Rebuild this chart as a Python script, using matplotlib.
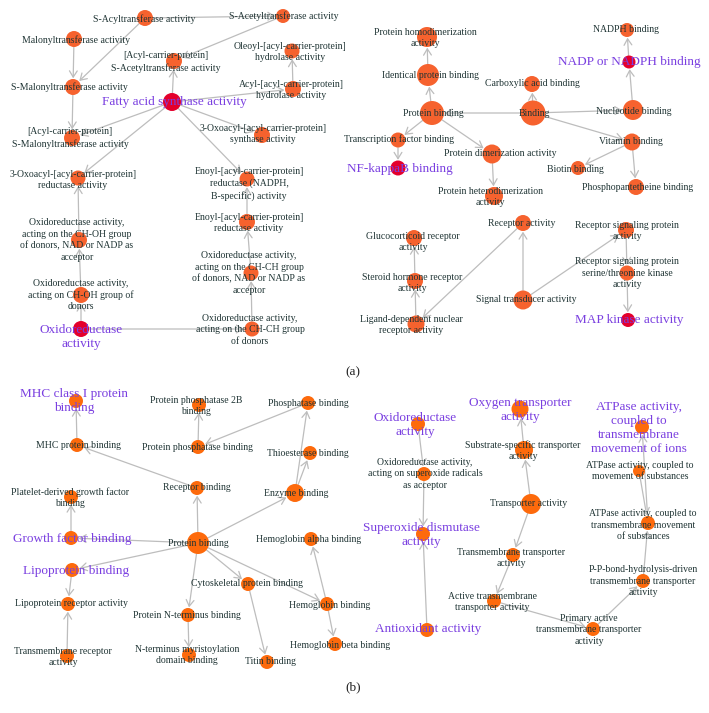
import matplotlib
matplotlib.use('Agg')
import matplotlib.pyplot as plt
from matplotlib.patches import FancyArrowPatch, ArrowStyle

plt.rcParams['font.family'] = ['Liberation Serif', 'DejaVu Serif']

# ---------------- data: GO terms (nodes) ----------------
panel_tags = ['(a)', '(b)']

node_labels = {
    # panel (a) - left network
    'sacyl': 'S-Acyltransferase activity',
    'sacet': 'S-Acetyltransferase activity',
    'malonyl': 'Malonyltransferase activity',
    'acpacet': '[Acyl-carrier-protein]\nS-Acetyltransferase activity',
    'oleoyl': 'Oleoyl-[acyl-carrier-protein]\nhydrolase activity',
    'smalonyl': 'S-Malonyltransferase activity',
    'fas': 'Fatty acid synthase activity',
    'acylhyd': 'Acyl-[acyl-carrier-protein]\nhydrolase activity',
    'acpmal': '[Acyl-carrier-protein]\nS-Malonyltransferase activity',
    'oxsyn': '3-Oxoacyl-[acyl-carrier-protein]\nsynthase activity',
    'oxred': '3-Oxoacyl-[acyl-carrier-protein]\nreductase activity',
    'enoylb': 'Enoyl-[acyl-carrier-protein]\nreductase (NADPH,\nB-specific) activity',
    'enoyl': 'Enoyl-[acyl-carrier-protein]\nreductase activity',
    'chohnad': 'Oxidoreductase activity,\nacting on the CH-OH group\nof donors, NAD or NADP as\nacceptor',
    'chchnad': 'Oxidoreductase activity,\nacting on the CH-CH group\nof donors, NAD or NADP as\nacceptor',
    'choh': 'Oxidoreductase activity,\nacting on CH-OH group of\ndonors',
    'oxa': 'Oxidoreductase\nactivity',
    'chch': 'Oxidoreductase activity,\nacting on the CH-CH group\nof donors',
    # panel (a) - right network
    'phomo': 'Protein homodimerization\nactivity',
    'ident': 'Identical protein binding',
    'pba': 'Protein binding',
    'tf': 'Transcription factor binding',
    'nfkb': 'NF-kappaB binding',
    'pdimer': 'Protein dimerization activity',
    'phet': 'Protein heterodimerization\nactivity',
    'binding': 'Binding',
    'carbox': 'Carboxylic acid binding',
    'nadph': 'NADPH binding',
    'nadp': 'NADP or NADPH binding',
    'nucl': 'Nucleotide binding',
    'vit': 'Vitamin binding',
    'biotin': 'Biotin binding',
    'ppant': 'Phosphopantetheine binding',
    'recact': 'Receptor activity',
    'gluco': 'Glucocorticoid receptor\nactivity',
    'steroid': 'Steroid hormone receptor\nactivity',
    'ligand': 'Ligand-dependent nuclear\nreceptor activity',
    'sigtr': 'Signal transducer activity',
    'rsp': 'Receptor signaling protein\nactivity',
    'rspstk': 'Receptor signaling protein\nserine/threonine kinase\nactivity',
    'mapk': 'MAP kinase activity',
    # panel (b)
    'mhc1': 'MHC class I protein\nbinding',
    'mhc': 'MHC protein binding',
    'pp2b': 'Protein phosphatase 2B\nbinding',
    'ppb': 'Protein phosphatase binding',
    'phosb': 'Phosphatase binding',
    'thio': 'Thioesterase binding',
    'enz': 'Enzyme binding',
    'recb': 'Receptor binding',
    'pdgf': 'Platelet-derived growth factor\nbinding',
    'gfb': 'Growth factor binding',
    'pbb': 'Protein binding',
    'lipo': 'Lipoprotein binding',
    'lipor': 'Lipoprotein receptor activity',
    'tmr': 'Transmembrane receptor\nactivity',
    'pnt': 'Protein N-terminus binding',
    'myr': 'N-terminus myristoylation\ndomain binding',
    'cyto': 'Cytoskeletal protein binding',
    'titin': 'Titin binding',
    'hb': 'Hemoglobin binding',
    'hba': 'Hemoglobin alpha binding',
    'hbb': 'Hemoglobin beta binding',
    'oxb': 'Oxidoreductase\nactivity',
    'superox': 'Oxidoreductase activity,\nacting on superoxide radicals\nas acceptor',
    'sod': 'Superoxide dismutase\nactivity',
    'antiox': 'Antioxidant activity',
    'oxyt': 'Oxygen transporter\nactivity',
    'subst': 'Substrate-specific transporter\nactivity',
    'transp': 'Transporter activity',
    'tmt': 'Transmembrane transporter\nactivity',
    'active': 'Active transmembrane\ntransporter activity',
    'primary': 'Primary active\ntransmembrane transporter\nactivity',
    'ppbond': 'P-P-bond-hydrolysis-driven\ntransmembrane transporter\nactivity',
    'atptm': 'ATPase activity, coupled to\ntransmembrane movement\nof substances',
    'atpmov': 'ATPase activity, coupled to\nmovement of substances',
    'atpion': 'ATPase activity,\ncoupled to\ntransmembrane\nmovement of ions',
}

# directed edges (parent term -> child term)
edge_src = ['sacyl', 'sacyl', 'sacet', 'malonyl', 'smalonyl', 'fas', 'fas', 'fas', 'fas',
            'acylhyd', 'fas', 'fas', 'enoyl', 'chchnad', 'chch', 'oxa', 'oxa', 'choh', 'chohnad',
            'pba', 'ident', 'pba', 'tf', 'pba', 'pdimer', 'binding', 'binding', 'binding',
            'binding', 'nucl', 'nadp', 'vit', 'vit',
            'sigtr', 'recact', 'ligand', 'steroid', 'sigtr', 'rsp', 'rspstk',
            'mhc', 'recb', 'pbb', 'ppb', 'phosb', 'enz', 'enz', 'pbb', 'gfb', 'pbb', 'pbb',
            'lipo', 'tmr', 'pbb', 'pnt', 'pbb', 'pbb', 'cyto', 'hb', 'hb',
            'oxb', 'superox', 'antiox', 'subst', 'transp', 'transp', 'tmt', 'active', 'primary',
            'ppbond', 'atpmov', 'atptm']
edge_dst = ['smalonyl', 'sacet', 'acpacet', 'smalonyl', 'acpmal', 'acpacet', 'acpmal', 'oxred', 'acylhyd',
            'oleoyl', 'oxsyn', 'enoylb', 'enoylb', 'enoyl', 'chchnad', 'chch', 'choh', 'chohnad', 'oxred',
            'ident', 'phomo', 'tf', 'nfkb', 'pdimer', 'phet', 'pba', 'carbox', 'nucl',
            'vit', 'nadp', 'nadph', 'biotin', 'ppant',
            'recact', 'ligand', 'steroid', 'gluco', 'rsp', 'rspstk', 'mapk',
            'mhc1', 'mhc', 'recb', 'pp2b', 'ppb', 'phosb', 'thio', 'enz', 'pdgf', 'gfb', 'lipo',
            'lipor', 'lipor', 'pnt', 'myr', 'cyto', 'hb', 'titin', 'hba', 'hbb',
            'superox', 'sod', 'sod', 'oxyt', 'subst', 'tmt', 'active', 'primary', 'ppbond',
            'atptm', 'atptm', 'atpion']

red_nodes = ['fas', 'oxa', 'nfkb', 'nadp', 'mapk']
highlight_labels = ['fas', 'oxa', 'nfkb', 'nadp', 'mapk', 'mhc1', 'gfb', 'lipo',
                    'oxb', 'sod', 'antiox', 'oxyt', 'atpion']
panel_b_nodes = ['mhc1', 'mhc', 'pp2b', 'ppb', 'phosb', 'thio', 'enz', 'recb', 'pdgf', 'gfb',
                 'pbb', 'lipo', 'lipor', 'tmr', 'pnt', 'myr', 'cyto', 'titin', 'hb', 'hba',
                 'hbb', 'oxb', 'superox', 'sod', 'antiox', 'oxyt', 'subst', 'transp', 'tmt',
                 'active', 'primary', 'ppbond', 'atptm', 'atpmov', 'atpion']

# ---------------- layout (pixel canvas coordinates) ----------------
# id: (node x, node y, node radius, label x, label y)
layout = {
    'sacyl': (145, 18, 8, 144, 19), 'sacet': (283, 16, 7, 284, 16),
    'malonyl': (74, 39, 8, 76, 40), 'acpacet': (174, 61, 8, 166, 62),
    'oleoyl': (292, 51, 7.5, 290, 52), 'smalonyl': (73, 87, 8, 69, 87),
    'fas': (172, 102, 9, 174, 102), 'acylhyd': (293, 89, 8, 291, 90),
    'acpmal': (72, 138, 8, 70, 138), 'oxsyn': (262, 135, 8, 263, 134),
    'oxred': (78, 178, 7.5, 73, 180), 'enoylb': (247, 179, 7.5, 249, 184),
    'enoyl': (247, 222, 8, 249, 223), 'chohnad': (79, 240, 8, 77, 240),
    'chchnad': (251, 273, 7.5, 249, 273), 'choh': (81, 295, 8, 81, 295),
    'oxa': (81, 329, 8, 81, 337), 'chch': (252, 329, 7.5, 250, 330),
    'phomo': (427, 37, 10, 425, 38), 'ident': (428, 75, 11, 430, 76),
    'pba': (432, 113, 12, 433, 114), 'tf': (398, 140, 7.5, 399, 139),
    'nfkb': (398, 168, 7.5, 400, 169), 'pdimer': (492, 154, 9.5, 500, 154),
    'phet': (494, 196, 9, 490, 197), 'binding': (533, 113, 12.5, 534, 113),
    'carbox': (532, 84, 8, 532, 84), 'nadph': (627, 30, 7, 626, 30),
    'nadp': (629, 62, 6.5, 629, 62), 'nucl': (633, 110, 10, 634, 111),
    'vit': (632, 142, 8.5, 631, 141), 'biotin': (578, 168, 7, 575, 169),
    'ppant': (636, 187, 8, 638, 188), 'recact': (523, 223, 8, 522, 224),
    'gluco': (414, 238, 8, 413, 242), 'steroid': (415, 281, 8, 412, 283),
    'ligand': (416, 324, 8.5, 411, 325), 'sigtr': (523, 300, 9.5, 526, 300),
    'rsp': (626, 230, 8, 627, 231), 'rspstk': (627, 273, 7.5, 627, 273),
    'mapk': (628, 320, 7, 629, 320),
    'mhc1': (76, 401, 7, 74, 401), 'mhc': (77, 445, 7, 78, 445),
    'pp2b': (199, 405, 7, 196, 406), 'ppb': (198, 447, 7, 197, 448),
    'phosb': (308, 403, 7, 308, 403), 'thio': (310, 453, 7, 308, 453),
    'enz': (295, 493, 9, 296, 494), 'recb': (197, 488, 7, 197, 488),
    'pdgf': (71, 497, 7, 70, 498), 'gfb': (71, 538, 7, 72, 539),
    'pbb': (198, 543, 11, 198, 543), 'lipo': (72, 570, 7, 76, 571),
    'lipor': (68, 604, 7, 71, 604), 'tmr': (67, 656, 7, 63, 657),
    'pnt': (188, 615, 7, 187, 616), 'myr': (189, 655, 7, 187, 655),
    'cyto': (248, 584, 7, 247, 584), 'titin': (267, 662, 7, 270, 661),
    'hb': (327, 604, 7, 330, 605), 'hba': (311, 539, 7, 309, 539),
    'hbb': (335, 644, 7, 340, 646), 'oxb': (418, 424, 7, 415, 425),
    'superox': (424, 474, 7, 425, 474), 'sod': (423, 534, 7, 421, 535),
    'antiox': (427, 630, 7, 428, 629), 'oxyt': (520, 409, 8.5, 520, 410),
    'subst': (524, 450, 9, 523, 451), 'transp': (531, 504, 10, 529, 504),
    'tmt': (513, 555, 7, 511, 558), 'active': (494, 601, 7, 492, 602),
    'primary': (593, 629, 7, 589, 630), 'ppbond': (643, 581, 7, 643, 581),
    'atptm': (648, 523, 7, 643, 525), 'atpmov': (639, 471, 6, 640, 471),
    'atpion': (642, 427, 7, 639, 428),
}
tag_pos = [(353, 372), (353, 687)]

# ---------------- styles ----------------
COL_A = '#F6622E'
COL_B = '#FD6A0C'
COL_RED = '#E4002C'
COL_EDGE = '#BDBDBD'
COL_TEXT = '#1F3434'
COL_PURPLE = '#7A3FE0'
PX2PT = 0.72

fig = plt.figure(figsize=(7.09, 7.13), dpi=100)
ax = fig.add_axes([0, 0, 1, 1])
ax.set_xlim(0, 709)
ax.set_ylim(713, 0)
ax.axis('off')

style = ArrowStyle('->', head_length=0.45, head_width=0.28)
for s, d in zip(edge_src, edge_dst):
    xs, ys, rs = layout[s][:3]
    xd, yd, rd = layout[d][:3]
    arr = FancyArrowPatch((xs, ys), (xd, yd), arrowstyle=style, mutation_scale=10,
                          color=COL_EDGE, lw=0.9, shrinkA=rs * PX2PT,
                          shrinkB=rd * PX2PT + 0.5, zorder=1)
    ax.add_patch(arr)

ids = list(node_labels.keys())
xs = [layout[i][0] for i in ids]
ys = [layout[i][1] for i in ids]
sizes = [(2 * layout[i][2] * PX2PT) ** 2 for i in ids]
cols = [COL_RED if i in red_nodes else (COL_B if i in panel_b_nodes else COL_A) for i in ids]
ax.scatter(xs, ys, s=sizes, c=cols, linewidths=0, zorder=2)

for i in ids:
    lx, ly = layout[i][3], layout[i][4]
    if i in highlight_labels:
        ax.text(lx, ly, node_labels[i], ha='center', va='center', fontsize=9.5,
                color=COL_PURPLE, linespacing=1.22, zorder=3)
    else:
        ax.text(lx, ly, node_labels[i], ha='center', va='center', fontsize=7.0,
                color=COL_TEXT, linespacing=1.32, zorder=3)

for tag, (tx, ty) in zip(panel_tags, tag_pos):
    ax.text(tx, ty, tag, ha='center', va='center', fontsize=9.5, color='#222222')

fig.savefig('out.png', dpi=100)
